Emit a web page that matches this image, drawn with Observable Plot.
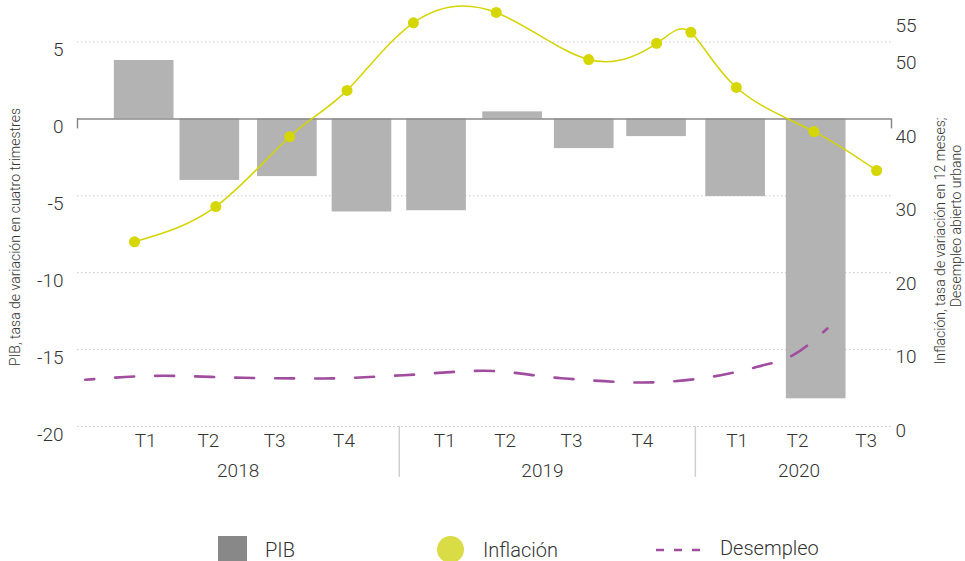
<!DOCTYPE html>
<html>
<head>
<meta charset="utf-8">
<script src="https://cdn.jsdelivr.net/npm/d3@7"></script>
<script src="https://cdn.jsdelivr.net/npm/@observablehq/plot@0.6"></script>
<style>
  html, body { margin: 0; padding: 0; background: #fff; }
  body { width: 965px; height: 561px; overflow: hidden; font-family: Roboto, "Noto Sans", sans-serif; }
  #legend { position: relative; width: 965px; height: 31px; font-family: Roboto, sans-serif; font-size: 20px; font-weight: 300; color: #333; }
  #legend .it { position: absolute; }
</style>
</head>
<body>
<div id="chart"></div>
<div id="legend"></div>
<script>
// ---- data ----
const barQuarters = ["2018 T1","2018 T2","2018 T3","2018 T4","2019 T1","2019 T2","2019 T3","2019 T4","2020 T1","2020 T2"];
const barPos = [0.07, 0.95, 1.99, 2.99, 3.99, 5.01, 5.97, 6.94, 8.0, 9.08];
const pib = [3.8, -4.0, -3.75, -6.05, -5.97, 0.46, -1.93, -1.15, -5.05, -18.2];

const inflPos = [-0.06, 1.03, 2.02, 2.79, 3.68, 4.79, 6.03, 6.94, 7.40, 8.01, 9.05, 9.89];
const inflacion = [25.4, 30.2, 39.7, 46.0, 55.2, 56.6, 50.2, 52.4, 53.9, 46.4, 40.4, 35.1];

const desPos = [-0.72, 0.33, 1.40, 2.47, 3.55, 4.62, 5.66, 6.74, 7.80, 8.29, 8.77, 9.23];
const desempleo = [6.63, 7.17, 6.90, 6.80, 7.25, 7.85, 6.84, 6.26, 7.25, 8.39, 9.97, 13.61];

const tickLabels = ["T1","T2","T3","T4","T1","T2","T3","T4","T1","T2","T3"];
const tickPos = [0.09, 0.93, 1.82, 2.75, 4.10, 4.91, 5.80, 6.75, 8.02, 8.83, 9.75];
const yearLabels = ["2018","2019","2020"];
const yearPos = [1.33, 5.41, 8.85];
const yearBreaks = [3.49, 7.46];

const leftTicks = [5, 0, -5, -10, -15, -20];
const rightTicks = [0, 10, 20, 30, 40, 50, 55];

const xDomain = [-0.824, 10.09];
const leftDomain = [-20, 7.7];
const rightDomain = [0, 58.23];
const rightBase = -20.13; // left-axis value at right-axis 0

// right-axis value -> left-axis units
const k = (leftDomain[1] - rightBase) / (rightDomain[1] - rightDomain[0]);
const toLeft = r => rightBase + (r - rightDomain[0]) * k;

const bars = barPos.map((p, i) => ({pos: p, v: pib[i], q: barQuarters[i]}));
const infl = inflPos.map((p, i) => ({pos: p, v: toLeft(inflacion[i])}));
const des = desPos.map((p, i) => ({pos: p, v: toLeft(desempleo[i])}));
const ticks = tickPos.map((p, i) => ({pos: p, t: tickLabels[i]}));
const yrs = yearPos.map((p, i) => ({pos: p, t: yearLabels[i]}));

const textColor = "#333";
const font = "Roboto, sans-serif";

const plot = Plot.plot({
  width: 965,
  height: 530,
  marginLeft: 77,
  marginRight: 74,
  marginTop: 0,
  marginBottom: 104,
  style: {fontFamily: font, background: "transparent", overflow: "visible"},
  x: {type: "linear", domain: xDomain, axis: null},
  y: {domain: leftDomain, axis: null},
  marks: [
    Plot.ruleY(leftTicks.filter(d => d !== 0), {stroke: "#c8c8c8", strokeWidth: 1, strokeDasharray: "1.5,2.5"}),
    Plot.rect(bars, {x1: d => d.pos - 0.4, x2: d => d.pos + 0.4, y1: 0, y2: "v", fill: "#b3b3b3"}),
    Plot.ruleY([0], {stroke: "#888", strokeWidth: 1.5}),
    Plot.ruleX(xDomain, {y1: 0, y2: -0.65, stroke: "#888", strokeWidth: 1.5}),
    Plot.line(des, {x: "pos", y: "v", curve: "monotone-x", stroke: "#a04d9f", strokeWidth: 2.6, strokeDasharray: "19,21", strokeDashoffset: 10}),
    Plot.line(infl, {x: "pos", y: "v", curve: "natural", stroke: "#d4d400", strokeWidth: 1.5}),
    Plot.dot(infl, {x: "pos", y: "v", r: 5.5, fill: "#d6d600", stroke: "none"}),
    Plot.ruleX(yearBreaks, {y1: leftDomain[0], y2: leftDomain[0] - 3.3, stroke: "#cfcfcf", strokeWidth: 1.5}),
    Plot.text(leftTicks, {x: xDomain[0], y: d => d, text: d => String(d), textAnchor: "end", dx: -14, dy: 8, fontSize: 19, fill: textColor, fontWeight: 300}),
    Plot.text(rightTicks, {x: xDomain[1], y: d => toLeft(d), text: d => String(d), textAnchor: "start", dx: 4, dy: 2, fontSize: 19, fill: textColor, fontWeight: 300}),
    Plot.text(ticks, {x: "pos", y: leftDomain[0], text: "t", dy: 14, fontSize: 19, fill: textColor, fontWeight: 300}),
    Plot.text(yrs, {x: "pos", y: leftDomain[0], text: "t", dy: 44, fontSize: 19, fill: textColor, fontWeight: 300})
  ]
});

document.getElementById("chart").appendChild(plot);

// axis titles
const svg = d3.select(plot);
svg.append("text")
  .attr("transform", "translate(16,237) rotate(-90)")
  .attr("text-anchor", "middle").attr("dominant-baseline", "middle")
  .attr("font-size", 14).attr("font-family", font).attr("font-weight", 300).attr("fill", textColor)
  .text("PIB, tasa de variación en cuatro trimestres");
svg.append("text")
  .attr("transform", "translate(941,241) rotate(-90)")
  .attr("text-anchor", "middle").attr("dominant-baseline", "middle")
  .attr("font-size", 14).attr("font-family", font).attr("font-weight", 300).attr("fill", textColor)
  .text("Inflación, tasa de variación en 12 meses;");
svg.append("text")
  .attr("transform", "translate(957,226) rotate(-90)")
  .attr("text-anchor", "middle").attr("dominant-baseline", "middle")
  .attr("font-size", 14).attr("font-family", font).attr("font-weight", 300).attr("fill", textColor)
  .text("Desempleo abierto urbano");

// legend
const legend = document.getElementById("legend");
legend.innerHTML = `
  <div class="it" style="left:218px;top:6px;width:29px;height:28px;background:#888"></div>
  <div class="it" style="left:265px;top:6px;line-height:28px">PIB</div>
  <div class="it" style="left:437px;top:6px;width:27px;height:27px;border-radius:50%;background:#d9dc45"></div>
  <div class="it" style="left:483px;top:6px;line-height:28px">Inflación</div>
  <svg class="it" style="left:656px;top:6px" width="46" height="28"><line x1="0" y1="14" x2="46" y2="14" stroke="#a04d9f" stroke-width="2.6" stroke-dasharray="8,10"/></svg>
  <div class="it" style="left:720px;top:4px;line-height:28px">Desempleo</div>
`;
</script>
</body>
